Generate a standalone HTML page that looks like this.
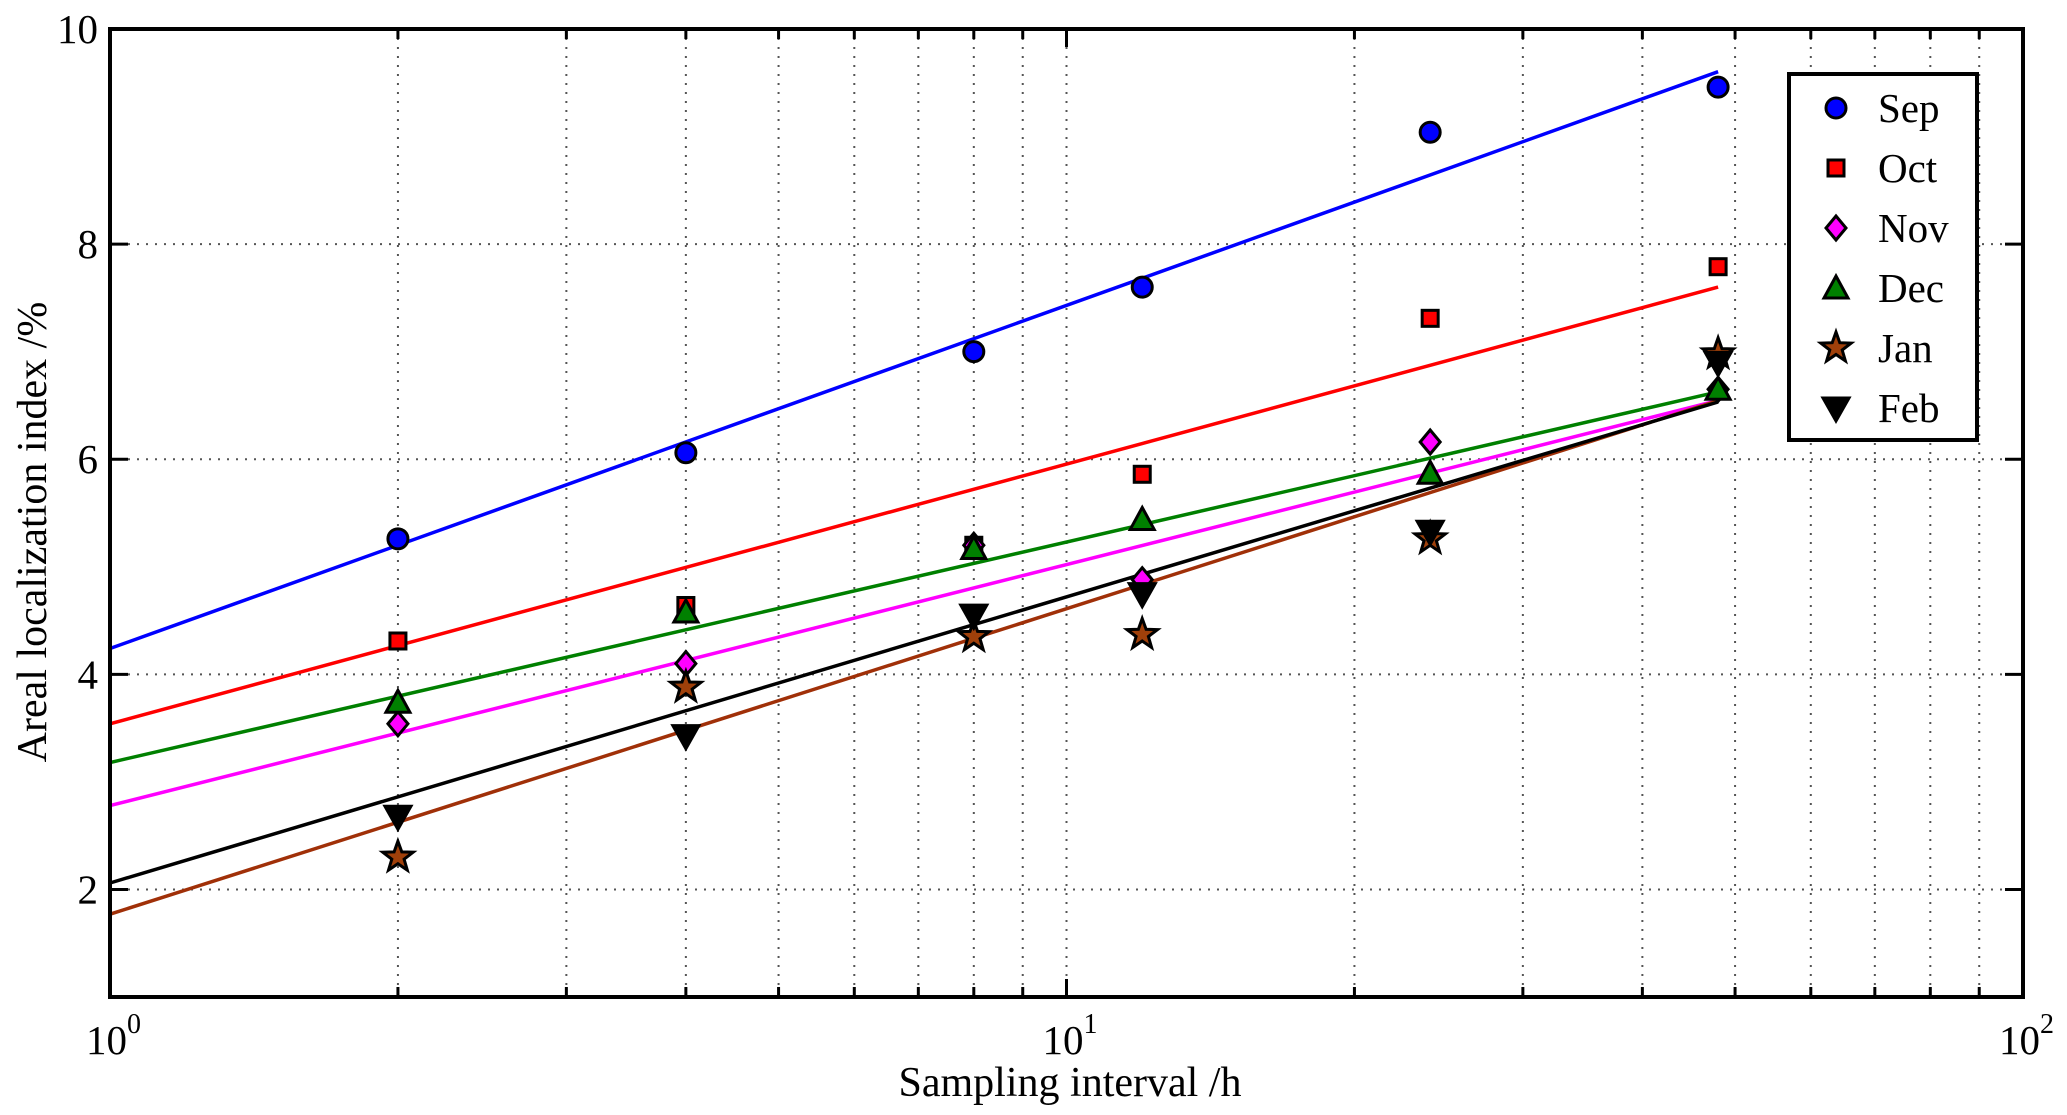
<!DOCTYPE html>
<html><head><meta charset="utf-8"><style>
html,body{margin:0;padding:0;background:#fff;}
svg{display:block;font-family:"Liberation Serif",serif;}
</style></head><body>
<svg id="chart" width="2067" height="1115" viewBox="0 0 2067 1115" xmlns="http://www.w3.org/2000/svg"></svg>
<script>
const xCats = [2, 4, 8, 12, 24, 48];
const months = ["Sep","Oct","Nov","Dec","Jan","Feb"];
const sepVals = [5.26, 6.06, 7.00, 7.60, 9.04, 9.46];
const octVals = [4.31, 4.64, 5.20, 5.86, 7.31, 7.79];
const novVals = [3.54, 4.10, 5.20, 4.88, 6.16, 6.65];
const decVals = [3.74, 4.58, 5.17, 5.44, 5.87, 6.65];
const janVals = [2.30, 3.88, 4.35, 4.37, 5.26, 6.98];
const febVals = [2.68, 3.43, 4.55, 4.75, 5.33, 6.90];
const fitIntercepts = [4.24, 3.54, 2.78, 3.18, 1.77, 2.06];
const fitSlopes = [3.19, 2.415, 2.24, 2.05, 2.84, 2.66];
const yTicks = [2, 4, 6, 8, 10];
const xDecades = [0, 1, 2];

const NS = "http://www.w3.org/2000/svg";
const svg = document.getElementById("chart");
const L = 110, R = 2023, T = 29, B = 997;
const yMin = 1, yMax = 10;
const xs = v => L + (Math.log10(v) - 0) / 2 * (R - L);
const ys = v => B - (v - yMin) / (yMax - yMin) * (B - T);
const colors = ["#0000ff","#ff0000","#ff00ff","#008000","#a0400a","#000000"];
const lineColors = ["#0000ff","#ff0000","#ff00ff","#008000","#a03008","#000000"];
const series = [sepVals, octVals, novVals, decVals, janVals, febVals];
const shapes = ["circle","square","diamond","triangle","star","tridown"];

function mk(tag, attrs, parent){ const e=document.createElementNS(NS,tag); for(const k in attrs) e.setAttribute(k,attrs[k]); (parent||svg).appendChild(e); return e; }

const grid = mk("g",{});


for (let d=0; d<2; d++) for (let m=1; m<=9; m++) {
  const v = m*Math.pow(10,d); if (v===1) continue;
  const x = xs(v);
  mk("line",{x1:x,y1:T,x2:x,y2:B,stroke:"#555","stroke-width":2,"stroke-dasharray":"2,7"},grid);
  const tl = m===1?18:10;
  mk("line",{x1:x,y1:B,x2:x,y2:B-tl,stroke:"#000","stroke-width":3},grid);
  mk("line",{x1:x,y1:T,x2:x,y2:T+tl,stroke:"#000","stroke-width":3},grid);
}
yTicks.forEach(t=>{
  if (t>=yMax) return;
  const y = ys(t);
  mk("line",{x1:L,y1:y,x2:R,y2:y,stroke:"#555","stroke-width":2,"stroke-dasharray":"2,7"},grid);
  mk("line",{x1:L,y1:y,x2:L+18,y2:y,stroke:"#000","stroke-width":3},grid);
  mk("line",{x1:R,y1:y,x2:R-18,y2:y,stroke:"#000","stroke-width":3},grid);
});

lineColors.forEach((c,i)=>{
  const x0=1, x1=48;
  const l = mk("line",{x1:xs(x0),y1:ys(fitIntercepts[i]),x2:xs(x1),y2:ys(fitIntercepts[i]+fitSlopes[i]*Math.log10(x1)),stroke:c,"stroke-width":3.5});
  
  
});

function marker(shape, cx, cy, fill, parent){
  const st = {fill:fill,stroke:"#000","stroke-width":3};
  let e;
  if (shape==="circle") e = mk("circle",Object.assign({cx:cx,cy:cy,r:10},st),parent);
  else if (shape==="square") e = mk("rect",Object.assign({x:cx-8,y:cy-8,width:16,height:16},st),parent);
  else if (shape==="diamond") e = mk("polygon",Object.assign({points:`${cx},${cy-12} ${cx+10},${cy} ${cx},${cy+12} ${cx-10},${cy}`},st),parent);
  else if (shape==="triangle") e = mk("polygon",Object.assign({points:`${cx},${cy-12} ${cx+12},${cy+10} ${cx-12},${cy+10}`},st),parent);
  else if (shape==="tridown") e = mk("polygon",Object.assign({points:`${cx-13},${cy-10} ${cx+13},${cy-10} ${cx},${cy+13}`},st),parent);
  else {
    let p=[]; for(let k=0;k<10;k++){ const a=-Math.PI/2+k*Math.PI/5; const r=k%2?6.5:16; p.push((cx+r*Math.cos(a)).toFixed(1)+","+(cy+r*Math.sin(a)).toFixed(1)); }
    e = mk("polygon",Object.assign({points:p.join(" ")},st),parent);
  }
  return e;
}

series.forEach((vals,i)=>{
  const g = mk("g",{});
  
  
  vals.forEach((v,j)=>{
    const m = marker(shapes[i], xs(xCats[j]), ys(v), colors[i], g);
    
    
  });
});

const box = mk("rect",{x:L,y:T,width:R-L,height:B-T,fill:"none",stroke:"#000","stroke-width":4});



yTicks.forEach(t=>{
  const tx = mk("text",{x:L-12,y:ys(t)+14,"text-anchor":"end","font-size":41});
  tx.textContent = t;
  
  
});
xDecades.forEach(d=>{
  const tx = mk("text",{x:xs(Math.pow(10,d))-24,y:1054,"font-size":41});
  tx.textContent = "10";
  
  
  const sp = mk("tspan",{dy:-21,"font-size":28});
  sp.textContent = d;
  tx.appendChild(sp);
});

const xt = mk("text",{x:1070,y:1096,"text-anchor":"middle","font-size":42});
xt.textContent = "Sampling interval /h";


const yt = mk("text",{x:0,y:0,"text-anchor":"middle","font-size":42,transform:"translate(46,532) rotate(-90)"});
yt.textContent = "Areal localization index /%";



const lg = mk("g",{});


mk("rect",{x:1789,y:74,width:188,height:366,fill:"#fff",stroke:"#000","stroke-width":4},lg);
months.forEach((m,i)=>{
  const y = 108 + i*60;
  const en = mk("g",{},lg);
  
  
  marker(shapes[i], 1836, y, colors[i], en);
  const t = mk("text",{x:1878,y:y+14,"font-size":41},en);
  t.textContent = m;
});
</script>
</body></html>
